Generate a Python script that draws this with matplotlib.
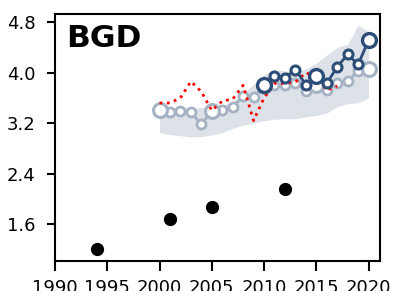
import numpy as np
import matplotlib
matplotlib.use("Agg")
import matplotlib.pyplot as plt

# survey points
survey_years = [1994, 2001, 2005, 2012]
survey_vals = [1.20, 1.68, 1.87, 2.16]

years = list(range(2000, 2021))
band_lo = [3.05, 3.02, 3.00, 2.98, 2.99, 3.01, 3.05, 3.12, 3.17, 3.20, 3.24,
           3.26, 3.27, 3.27, 3.30, 3.32, 3.36, 3.46, 3.51, 3.52, 3.60]
band_hi = [3.44, 3.44, 3.44, 3.43, 3.45, 3.45, 3.48, 3.55, 3.66, 3.82, 3.97,
           4.04, 4.03, 4.00, 4.06, 4.15, 4.28, 4.40, 4.45, 4.75, 4.65]
grey_vals = [3.41, 3.37, 3.40, 3.37, 3.18, 3.40, 3.41, 3.45, 3.63, 3.61, 3.79,
             3.81, 3.81, 3.84, 3.71, 3.81, 3.72, 3.84, 3.87, 4.02, 4.06]

dark_years = list(range(2010, 2021))
dark_vals = [3.80, 3.94, 3.92, 4.05, 3.81, 3.94, 3.83, 4.09, 4.29, 4.13, 4.51]

red_years = list(range(2000, 2018))
red_vals = [3.52, 3.52, 3.60, 3.86, 3.70, 3.40, 3.55, 3.58, 3.80, 3.24, 3.60,
            3.83, 3.83, 3.85, 4.00, 3.93, 3.72, 3.79]

big_years = [2000, 2005, 2010, 2015, 2020]

grey_c = "#a4b2c3"
dark_c = "#2d4d79"
band_c = "#dde2e9"

fig = plt.figure(figsize=(3.93, 2.91), dpi=100)
ax = fig.add_axes([0.14, 0.104, 0.827, 0.848])

ax.fill_between(years, band_lo, band_hi, color=band_c, lw=0, zorder=1)

# grey series
ax.plot(years, grey_vals, color=grey_c, lw=2, zorder=2)
small = [(y, v) for y, v in zip(years, grey_vals) if y not in big_years]
big = [(y, v) for y, v in zip(years, grey_vals) if y in big_years]
ax.plot([p[0] for p in small], [p[1] for p in small], 'o', ms=6.5, mfc='white',
        mec=grey_c, mew=2, zorder=3)
ax.plot([p[0] for p in big], [p[1] for p in big], 'o', ms=10, mfc='white',
        mec=grey_c, mew=2.2, zorder=3)

ax.plot(red_years, red_vals, ':', color='red', lw=2, zorder=4)

# dark series
ax.plot(dark_years, dark_vals, color=dark_c, lw=2, zorder=5)
small = [(y, v) for y, v in zip(dark_years, dark_vals) if y not in big_years]
big = [(y, v) for y, v in zip(dark_years, dark_vals) if y in big_years]
ax.plot([p[0] for p in small], [p[1] for p in small], 'o', ms=6.5, mfc='white',
        mec=dark_c, mew=2.2, zorder=6)
ax.plot([p[0] for p in big], [p[1] for p in big], 'o', ms=10, mfc='white',
        mec=dark_c, mew=2.4, zorder=6)

ax.plot(survey_years, survey_vals, 'o', color='black', ms=8.5, zorder=7)

ax.set_xlim(1990, 2021.1)
ax.set_ylim(1.02, 4.93)
ax.set_xticks([1990, 1995, 2000, 2005, 2010, 2015, 2020])
ax.set_yticks([1.6, 2.4, 3.2, 4.0, 4.8])
ax.tick_params(direction='out', width=1.5, labelsize=13)
ax.tick_params(axis='x', length=7.5, pad=5.5)
ax.tick_params(axis='y', length=6, pad=8)
for s in ax.spines.values():
    s.set_linewidth(1.5)

ax.text(0.035, 0.96, "BGD", transform=ax.transAxes, fontsize=22.5,
        fontweight='bold', va='top', ha='left')

fig.savefig("out.png", dpi=100)
